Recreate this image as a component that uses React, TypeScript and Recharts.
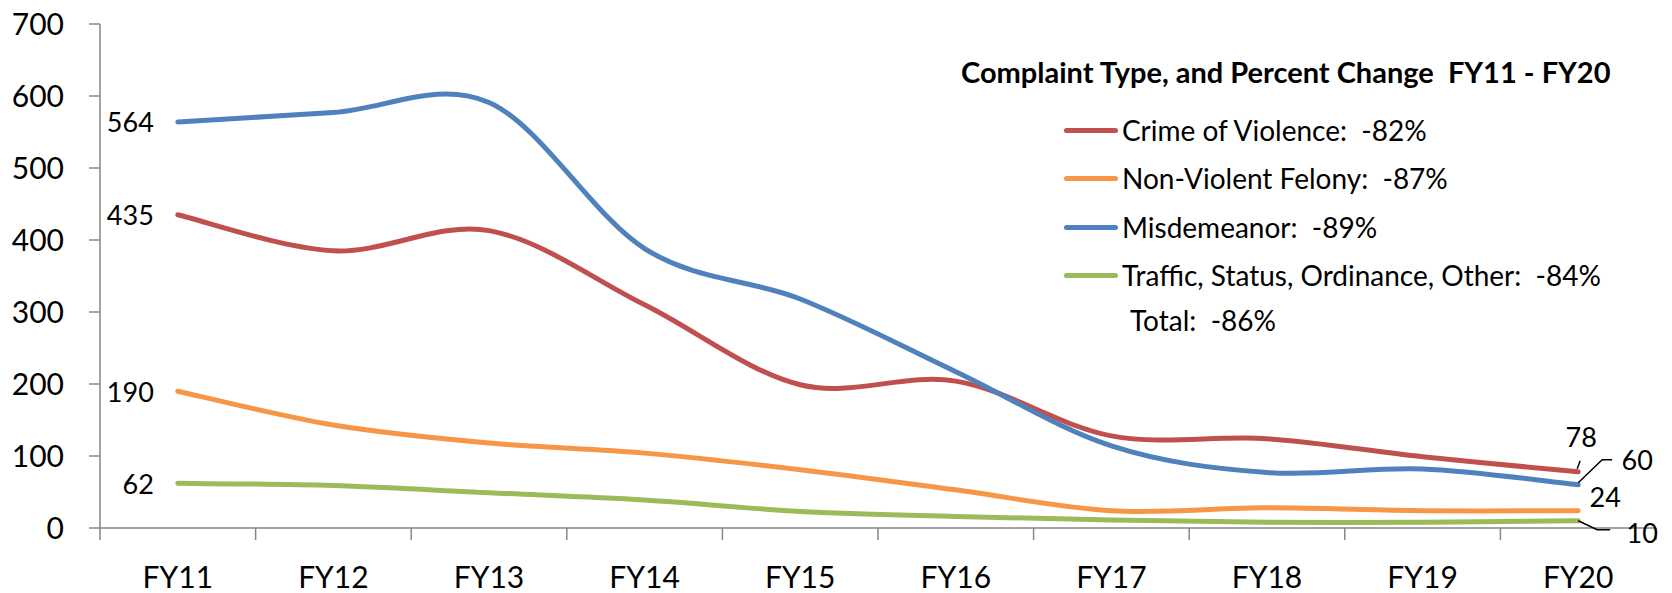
import React from "react";
import { LineChart, Line, XAxis, YAxis, Legend, LabelList } from "recharts";

const FONT = "Lato, Carlito, Calibri, sans-serif";

const years = ["FY11", "FY12", "FY13", "FY14", "FY15", "FY16", "FY17", "FY18", "FY19", "FY20"];
const crimeOfViolence = [435, 385, 413, 310, 199, 204, 128, 124, 99, 78];
const nonViolentFelony = [190, 143, 118, 104, 81, 53, 24, 28, 24, 24];
const misdemeanor = [564, 577, 591, 388, 318, 217, 114, 77, 82, 60];
const trafficOther = [62, 59, 49, 39, 23, 16, 11, 8, 8, 10];
const yTicks = [0, 100, 200, 300, 400, 500, 600, 700];

const legendTitle = "Complaint Type, and Percent Change  FY11 - FY20";
const legendItems = [
  { key: "violence", label: "Crime of Violence:  -82%", color: "#C0504D" },
  { key: "felony", label: "Non-Violent Felony:  -87%", color: "#F79646" },
  { key: "misd", label: "Misdemeanor:  -89%", color: "#4F81BD" },
  { key: "traffic", label: "Traffic, Status, Ordinance, Other:  -84%", color: "#9BBB59" },
];
const totalLabel = "Total:  -86%";

const data = years.map((fy, i) => ({
  fy,
  violence: crimeOfViolence[i],
  felony: nonViolentFelony[i],
  misd: misdemeanor[i],
  traffic: trafficOther[i],
}));

// excel style smoothed line (catmull-rom through the points)
const excelSmooth = (context: any) => {
  let pts: number[][] = [];
  return {
    areaStart() {},
    areaEnd() {},
    lineStart() {
      pts = [];
    },
    point(x: number, y: number) {
      pts.push([+x, +y]);
    },
    lineEnd() {
      const n = pts.length;
      if (!n) return;
      context.moveTo(pts[0][0], pts[0][1]);
      for (let i = 0; i < n - 1; i++) {
        const p0 = pts[Math.max(i - 1, 0)];
        const p1 = pts[i];
        const p2 = pts[i + 1];
        const p3 = pts[Math.min(i + 2, n - 1)];
        context.bezierCurveTo(
          p1[0] + (p2[0] - p0[0]) / 6, p1[1] + (p2[1] - p0[1]) / 6,
          p2[0] - (p3[0] - p1[0]) / 6, p2[1] - (p3[1] - p1[1]) / 6,
          p2[0], p2[1]
        );
      }
    },
  };
};

const W = 1672;
const H = 593;
const MARGIN = { top: 24, right: 16, left: 0, bottom: 5 };
const Y_AXIS_W = 100;
const BAND = (W - MARGIN.left - MARGIN.right - Y_AXIS_W) / years.length;
const AXIS_COLOR = "#868686";

function XTick(props: any) {
  const { x, y, index } = props;
  const left = x - BAND / 2;
  return (
    <g>
      <line x1={left} y1={y - 12} x2={left} y2={y} stroke={AXIS_COLOR} strokeWidth={1.5} />
      {index === years.length - 1 && (
        <line x1={x + BAND / 2} y1={y - 12} x2={x + BAND / 2} y2={y} stroke={AXIS_COLOR} strokeWidth={1.5} />
      )}
      <text x={x} y={y + 36} textAnchor="middle" dominantBaseline="central" fontFamily={FONT} fontSize={30} fill="#000">
        {props.payload.value}
      </text>
    </g>
  );
}

// end label placement for each series: [dx, dy, leader points]
const endLabel: Record<string, { dx: number; dy: number; leader?: number[][] }> = {
  violence: { dx: 3, dy: -35, leader: [[-1, -3], [2, -11]] },
  felony: { dx: 27, dy: -14 },
  misd: { dx: 59, dy: -25, leader: [[0, -2], [24, -25], [34, -25]] },
  traffic: { dx: 64, dy: 12, leader: [[0, 0], [19, 9], [32, 9]] },
};

const makeLabel = (key: string) => (props: any) => {
  const { x, y, value, index } = props;
  if (index === 0) {
    return (
      <text x={x - 24} y={y} textAnchor="end" dominantBaseline="central" fontFamily={FONT} fontSize={27} fill="#000">
        {value}
      </text>
    );
  }
  if (index === years.length - 1) {
    const c = endLabel[key];
    return (
      <g>
        {c.leader && (
          <polyline
            points={c.leader.map((p) => `${x + p[0]},${y + p[1]}`).join(" ")}
            fill="none"
            stroke="#000"
            strokeWidth={1.5}
          />
        )}
        <text x={x + c.dx} y={y + c.dy} textAnchor="middle" dominantBaseline="central" fontFamily={FONT} fontSize={27} fill="#000">
          {value}
        </text>
      </g>
    );
  }
  return null;
};

function LegendBox() {
  const rowY = [130, 178, 227, 275];
  return (
    <div style={{ position: "absolute", left: 0, top: 0, width: W, height: H, fontFamily: FONT, color: "#000", pointerEvents: "none" }}>
      <div style={{ position: "absolute", left: 961, top: 72 - 18, height: 36, lineHeight: "36px", fontSize: 29, fontWeight: 700, whiteSpace: "pre" }}>
        {legendTitle}
      </div>
      {legendItems.map((it, i) => (
        <React.Fragment key={it.key}>
          <div style={{ position: "absolute", left: 1064, top: rowY[i] - 2.5, width: 54, height: 5, borderRadius: 3, background: it.color }} />
          <div style={{ position: "absolute", left: 1122, top: rowY[i] - 18, height: 36, lineHeight: "36px", fontSize: 28, whiteSpace: "pre" }}>
            {it.label}
          </div>
        </React.Fragment>
      ))}
      <div style={{ position: "absolute", left: 1130, top: 320 - 18, height: 36, lineHeight: "36px", fontSize: 28, whiteSpace: "pre" }}>
        {totalLabel}
      </div>
    </div>
  );
}

export default function App() {
  return (
    <div style={{ position: "absolute", left: 0, top: 0, width: W, height: H, background: "#fff" }}>
      <LineChart width={W} height={H} data={data} margin={MARGIN}>
        <XAxis
          dataKey="fy"
          scale="band"
          height={60}
          tick={<XTick />}
          tickLine={false}
          tickSize={12}
          tickMargin={0}
          axisLine={{ stroke: AXIS_COLOR, strokeWidth: 1.5 }}
          interval={0}
        />
        <YAxis
          width={Y_AXIS_W}
          domain={[0, 700]}
          ticks={yTicks}
          interval={0}
          tickSize={11}
          tickMargin={25}
          tickLine={{ stroke: AXIS_COLOR, strokeWidth: 1.5 }}
          axisLine={{ stroke: AXIS_COLOR, strokeWidth: 1.5 }}
          tick={{ fill: "#000", fontSize: 30, fontFamily: FONT }}
        />
        <Legend
          layout="vertical"
          align="center"
          verticalAlign="middle"
          content={<LegendBox />}
          wrapperStyle={{ left: 0, top: 0, width: 0, height: 0 }}
        />
        {legendItems.map((it) => (
          <Line
            key={it.key}
            dataKey={it.key}
            name={it.label}
            type={excelSmooth as any}
            stroke={it.color}
            strokeWidth={5}
            strokeLinecap="round"
            dot={false}
            activeDot={false}
            isAnimationActive={false}
          >
            <LabelList dataKey={it.key} content={makeLabel(it.key)} />
          </Line>
        ))}
      </LineChart>
    </div>
  );
}
